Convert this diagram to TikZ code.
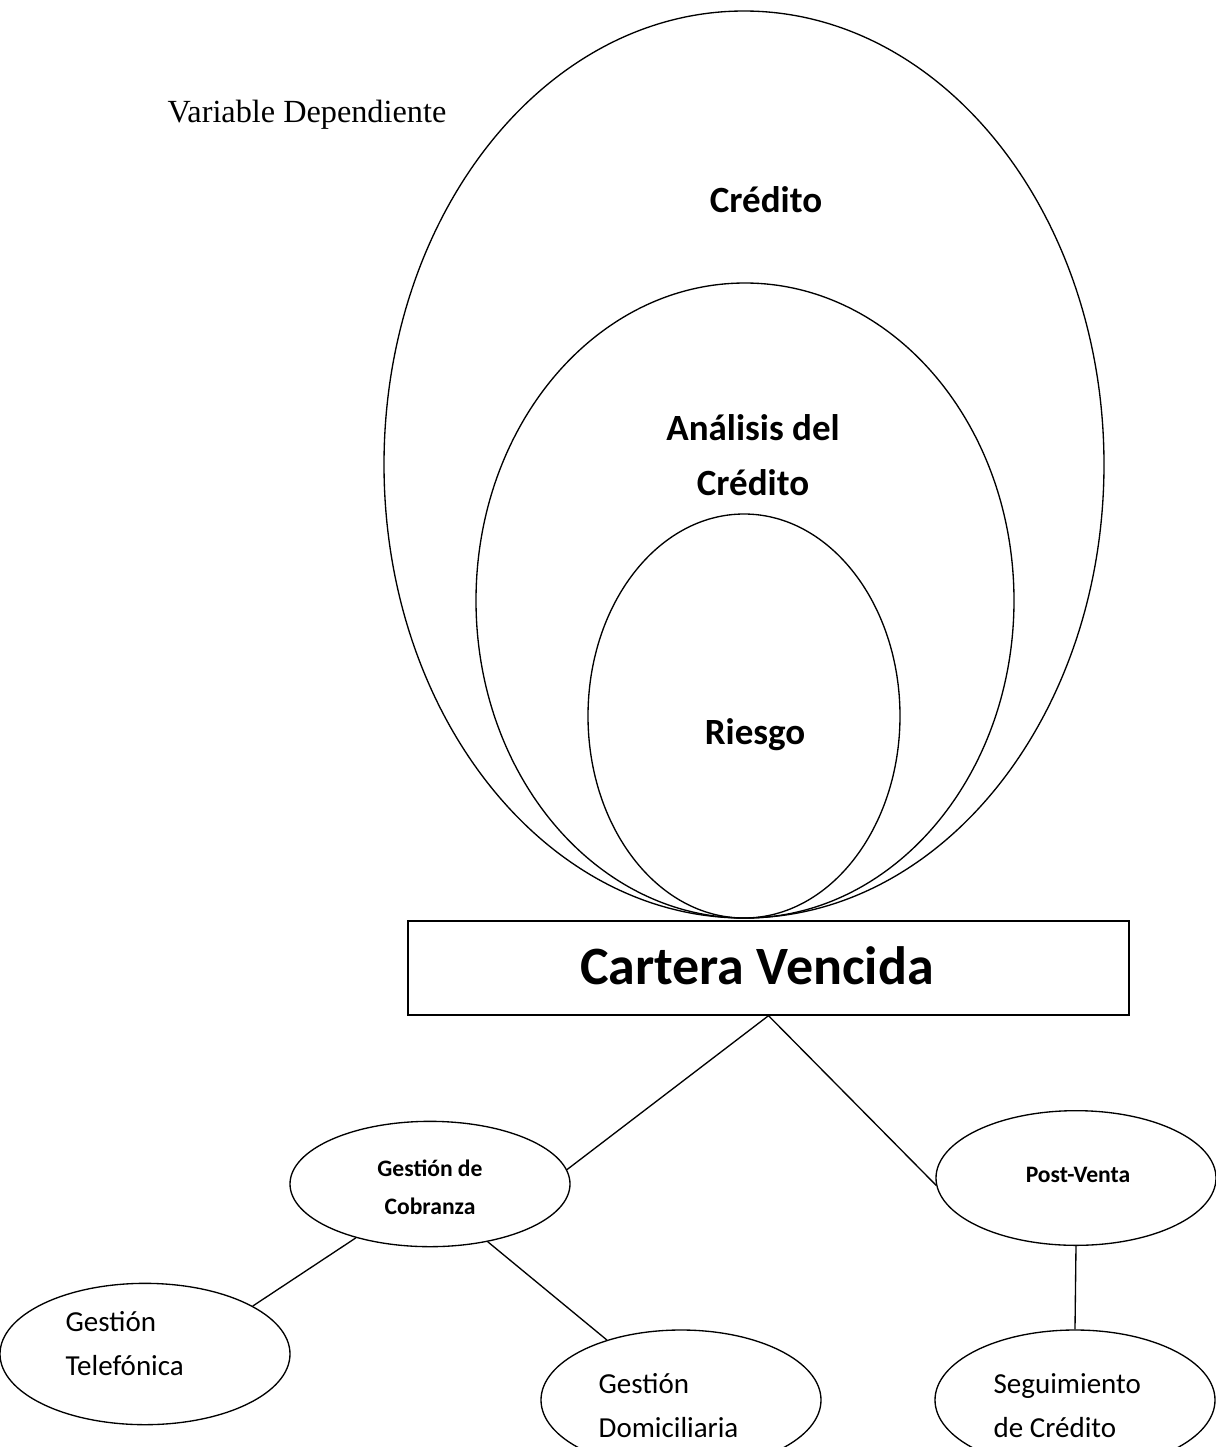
\documentclass[tikz,border=0pt]{standalone}
\usepackage{fontspec}
\setmainfont{Liberation Serif}
\newfontfamily\calibri{Carlito}
\usetikzlibrary{shapes.geometric}

\tikzset{every picture/.style={line width=1pt}}

\begin{document}
\begin{tikzpicture}[x=0.75pt,y=0.75pt,yscale=-1,xscale=1,
	oval/.style={draw, ellipse, inner sep=0pt, minimum width=210pt},
	bigtxt/.style={font=\calibri\bfseries\fontsize{27.75}{41.25}\selectfont, align=center, inner sep=0pt},
	smalltxt/.style={font=\calibri\bfseries\fontsize{17.7}{28.5}\selectfont, align=center, inner sep=0pt},
	normtxt/.style={font=\calibri\fontsize{21.75}{33}\selectfont, align=left, inner sep=0pt, anchor=west},
	vartxt/.style={font=\fontsize{24.2}{29}\selectfont, inner sep=0pt}]
	\useasboundingbox (0,0) rectangle (1215,1447);

	%Shape: Ellipse [Credito]
	\draw   (744,464.5) ellipse (360 and 453.5) ;
	%Shape: Ellipse [Analisis]
	\draw   (745,600.5) ellipse (269 and 317.5) ;
	%Shape: Ellipse [Riesgo]
	\draw   (744,716) ellipse (156 and 202) ;

	%Shape: Rectangle
	\node [draw, rectangle, minimum width=540.75pt, minimum height=70.5pt] (cartera) at (768.5,968) {};

	%Shape: Ellipse nodes
	\node [oval, minimum height=94pt] (cob) at (430,1184) {};
	\node [oval, minimum height=101pt] (pv) at (1076,1178) {};
	\node [oval, minimum width=217.5pt, minimum height=106pt] (tel) at (145,1354) {};
	\node [oval, minimum height=105pt] (dom) at (681,1400) {};
	\node [oval, minimum height=105pt] (seg) at (1075,1400) {};

	%Straight Lines
	\draw    (cartera.south) -- (cob.6) ;
	\draw    (cartera.south) -- (pv.183) ;
	\draw    (cob.216) -- (tel.24) ;
	\draw    (cob.315) -- (dom.141) ;
	\draw    (pv.south) -- (seg.north) ;

	% Text Node
	\node [vartxt] (var-txt) at (307,115) {Variable Dependiente};
	% Text Node
	\node [bigtxt] (cred-txt) at (766,200) {Crédito};
	% Text Node
	\node [bigtxt] (anal-txt) at (753,455) {Análisis del\\Crédito};
	% Text Node
	\node [bigtxt] (ries-txt) at (755,735) {Riesgo};
	% Text Node
	\node [font=\calibri\bfseries\fontsize{40.5}{48}\selectfont, inner sep=0pt] (cart-txt) at (757,966) {Cartera Vencida};
	% Text Node
	\node [smalltxt] (cob-txt) at (430,1187) {Gestión de\\Cobranza};
	% Text Node
	\node [smalltxt] (pv-txt) at (1078,1175) {Post-Venta};
	% Text Node
	\node [normtxt] (tel-txt) at (65,1344) {Gestión\\Telefónica};
	% Text Node
	\node [normtxt] (dom-txt) at (598,1406) {Gestión\\Domiciliaria};
	% Text Node
	\node [normtxt] (seg-txt) at (993,1406) {Seguimiento\\de Crédito};

\end{tikzpicture}
\end{document}
